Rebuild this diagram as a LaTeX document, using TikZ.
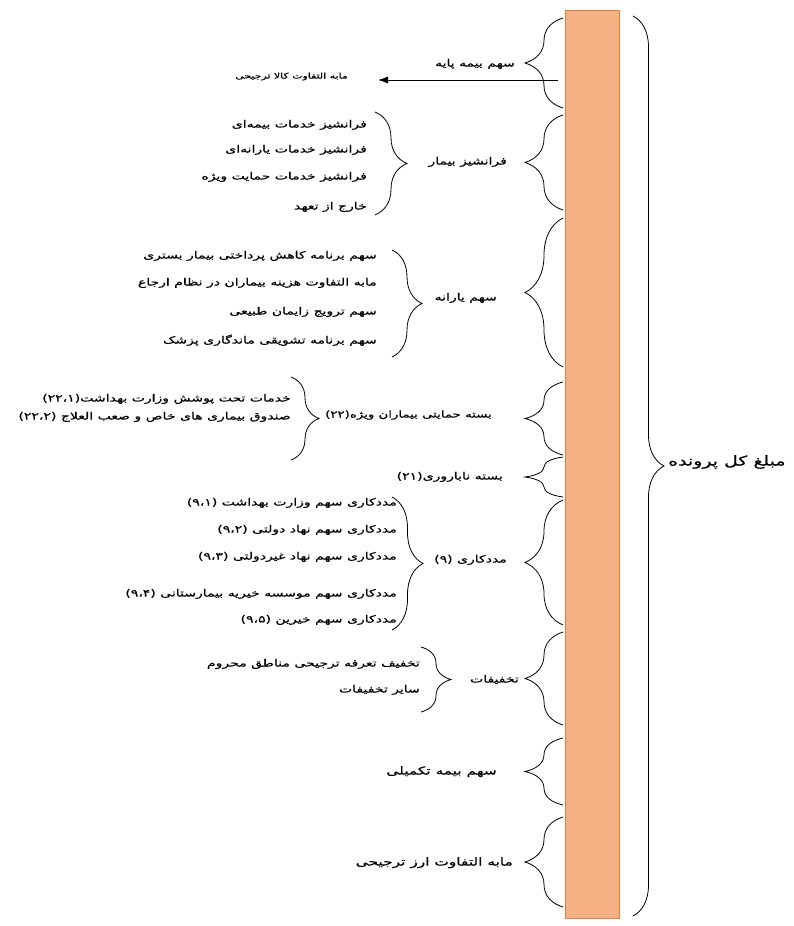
\documentclass[tikz,border=0pt]{standalone}
\usepackage{fontspec}
\usetikzlibrary{positioning,decorations.pathreplacing,arrows.meta}
\newfontfamily\persianfont[Script=Arabic, FakeStretch=1.4, FakeBold=0.4]{DejaVu Sans}
\TeXXeTstate=1
\newcommand{\fatxt}[1]{\beginR #1\endR}
\definecolor{barfill}{HTML}{F4B183}
\definecolor{barline}{HTML}{ED7D31}

\tikzset{
  curly/.style={decorate, decoration={brace, amplitude=#1}, line width=0.8pt},
  grouptext/.style={inner sep=0pt, anchor=east, font=\fontsize{10}{12}\persianfont, text height=8pt, text depth=3pt},
  itemtext/.style={grouptext},
  bigtext/.style={grouptext, font=\fontsize{11}{13}\persianfont},
}

\begin{document}
\begin{tikzpicture}[x=1pt, y=-1pt]
  \useasboundingbox (0,0) rectangle (794,926);
  % the orange bar
  \node[draw=barline, fill=barfill, line width=0.8pt, minimum width=54pt, minimum height=908pt, inner sep=0pt] (bar) at (592,464) {};

  % basic insurance and the arrow out of it
  \draw[curly=38] (563,108) -- (563,18);
  \node[grouptext] (basic) at (515,64) {\fatxt{سهم بیمه پایه}};
  \node[grouptext, font=\fontsize{7.8}{10}\persianfont] (kala) at (348,76) {\fatxt{مابه التفاوت کالا ترجیحی}};
  \coordinate (a0) at (558,80);
  \draw[-{Latex[length=10pt,width=7pt]}, line width=0.9pt, shorten >=30pt] (a0) -- (a0 -| kala.east);

  % patient franchise
  \draw[curly=38] (563,210) -- (563,115);
  \node[grouptext] (franchise) at (507,162) {\fatxt{فرانشیز بیمار}};
  \draw[curly=32] (375,112) -- (375,215);
  \node[itemtext] (f1) at (367,125) {\fatxt{فرانشیز خدمات بیمه‌ای}};
  \node[itemtext, below=25pt of f1.east, anchor=east] (f2) {\fatxt{فرانشیز خدمات یارانه‌ای}};
  \node[itemtext, below=27pt of f2.east, anchor=east] (f3) {\fatxt{فرانشیز خدمات حمایت ویژه}};
  \node[itemtext, below=30pt of f3.east, anchor=east] (f4) {\fatxt{خارج از تعهد}};

  % subsidy
  \draw[curly=38] (563,367) -- (563,218);
  \node[grouptext] (subsidy) at (497,298) {\fatxt{سهم یارانه}};
  \draw[curly=30] (392,250) -- (392,357);
  \node[itemtext] (s1) at (377,256) {\fatxt{سهم برنامه کاهش پرداختی بیمار بستری}};
  \node[itemtext, below=27pt of s1.east, anchor=east] (s2) {\fatxt{مابه التفاوت هزینه بیماران در نظام ارجاع}};
  \node[itemtext, below=29pt of s2.east, anchor=east] (s3) {\fatxt{سهم ترویج زایمان طبیعی}};
  \node[itemtext, below=29pt of s3.east, anchor=east] (s4) {\fatxt{سهم برنامه تشویقی ماندگاری پزشک}};

  % special patients package
  \draw[curly=38] (563,455) -- (563,382);
  \node[grouptext, font=\fontsize{9.5}{11}\persianfont] (special) at (492,415) {\fatxt{بسته حمایتی بیماران ویژه(۲۲)}};
  \draw[curly=28] (291,377) -- (291,460);
  \node[itemtext] (p1) at (291,399) {\fatxt{خدمات تحت پوشش وزارت بهداشت(۲۲،۱)}};
  \node[itemtext, below=18pt of p1.east, anchor=east] (p2) {\fatxt{صندوق بیماری های خاص و صعب العلاج (۲۲،۲)}};

  % infertility package
  \draw[curly=38] (563,497) -- (563,457);
  \node[grouptext] (infertility) at (503,477) {\fatxt{بسته ناباروری(۲۱)}};

  % social work
  \draw[curly=38] (563,625) -- (563,500);
  \node[grouptext] (social) at (507,560) {\fatxt{مددکاری (۹)}};
  \draw[curly=31] (392,497) -- (392,630);
  \node[itemtext] (m1) at (397,503) {\fatxt{مددکاری سهم وزارت بهداشت (۹،۱)}};
  \node[itemtext, below=27pt of m1.east, anchor=east] (m2) {\fatxt{مددکاری سهم نهاد دولتی (۹،۲)}};
  \node[itemtext, below=27pt of m2.east, anchor=east] (m3) {\fatxt{مددکاری سهم نهاد غیردولتی (۹،۳)}};
  \node[itemtext, below=37pt of m3.east, anchor=east] (m4) {\fatxt{مددکاری سهم موسسه خیریه بیمارستانی (۹،۴)}};
  \node[itemtext, below=26pt of m4.east, anchor=east] (m5) {\fatxt{مددکاری سهم خیرین (۹،۵)}};

  % discounts
  \draw[curly=38] (563,725) -- (563,632);
  \node[grouptext] (discount) at (519,680) {\fatxt{تخفیفات}};
  \draw[curly=30] (421,647) -- (421,712);
  \node[itemtext] (d1) at (420,664) {\fatxt{تخفیف تعرفه ترجیحی مناطق محروم}};
  \node[itemtext, below=26pt of d1.east, anchor=east] (d2) {\fatxt{سایر تخفیفات}};

  % supplementary insurance and currency gap
  \draw[curly=38] (563,805) -- (563,738);
  \node[bigtext] (supplement) at (497,772) {\fatxt{سهم بیمه تکمیلی}};
  \draw[curly=38] (563,907) -- (563,817);
  \node[bigtext] (currency) at (513,863) {\fatxt{مابه التفاوت ارز ترجیحی}};

  % total
  \draw[curly=31] (633,16) -- (633,916);
  \node[bigtext, font=\fontsize{13.5}{15}\persianfont, anchor=west] (total) at (668,463) {\fatxt{مبلغ کل پرونده}};
\end{tikzpicture}
\end{document}
